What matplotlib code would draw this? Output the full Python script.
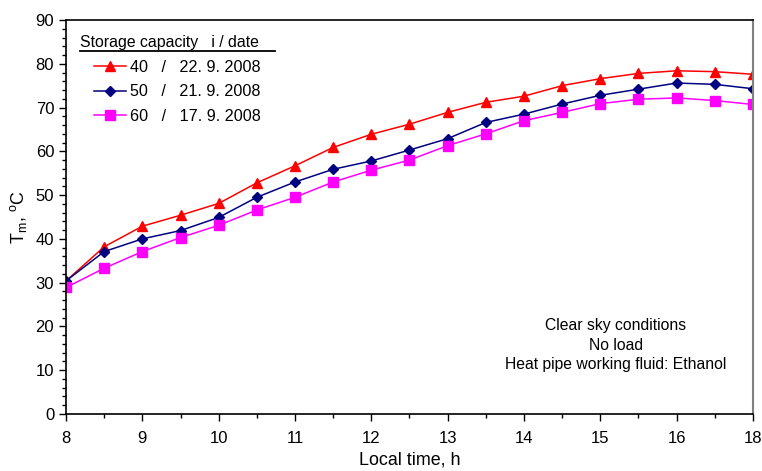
import numpy as np
import matplotlib.pyplot as plt
from matplotlib.ticker import MultipleLocator

plt.rcParams['font.family'] = ['Liberation Sans', 'DejaVu Sans']
plt.rcParams['mathtext.fontset'] = 'custom'
plt.rcParams['mathtext.rm'] = 'Liberation Sans'

# local time, h (last tick is labelled 18 in the original chart)
time_h = [8, 8.5, 9, 9.5, 10, 10.5, 11, 11.5, 12, 12.5, 13, 13.5, 14, 14.5, 15, 15.5, 16, 16.5, 17]
tick_pos = [8, 9, 10, 11, 12, 13, 14, 15, 16, 17]
tick_labels = ['8', '9', '10', '11', '12', '13', '14', '15', '16', '18']

t_40 = [30.4, 38.2, 42.9, 45.4, 48.1, 52.8, 56.7, 60.9, 63.9, 66.2, 68.9, 71.2, 72.6, 75.0, 76.6, 77.8, 78.4, 78.2, 77.6]
t_50 = [30.4, 37.1, 40.0, 41.9, 44.9, 49.5, 53.0, 55.9, 57.8, 60.3, 62.9, 66.6, 68.5, 70.8, 72.8, 74.2, 75.6, 75.3, 74.3]
t_60 = [28.9, 33.3, 37.1, 40.3, 43.1, 46.6, 49.5, 53.0, 55.7, 58.0, 61.3, 64.0, 67.0, 68.9, 70.9, 71.9, 72.2, 71.6, 70.7]

labels = ['40   /   22. 9. 2008', '50   /   21. 9. 2008', '60   /   17. 9. 2008']

W, H = 687, 394
fig = plt.figure(figsize=(7.62, 4.71), dpi=100)
ax = fig.add_axes([66/762, 57/471, W/762, H/471])

ax.plot(time_h, t_40, color='#FF0000', marker='^', markersize=7, lw=1.1, label=labels[0])
ax.plot(time_h, t_50, color='#000080', marker='D', markersize=5.5, lw=1.1, label=labels[1])
ax.plot(time_h, t_60, color='#FF00FF', marker='s', markersize=6.5, lw=1.1, label=labels[2])

ax.set_xlim(8, 17)
ax.set_ylim(0, 90)
ax.set_xticks(tick_pos)
ax.set_xticklabels(tick_labels)
ax.xaxis.set_minor_locator(MultipleLocator(0.5))
ax.yaxis.set_major_locator(MultipleLocator(10))
ax.yaxis.set_minor_locator(MultipleLocator(2))
ax.tick_params(which='major', direction='out', length=5, width=1, labelsize=12)
ax.tick_params(which='minor', direction='out', length=3, width=1)
ax.tick_params(axis='x', pad=7)

ax.spines['right'].set_color('#808080')
ax.spines['right'].set_linewidth(1.5)
for s in ['left', 'bottom', 'top']:
    ax.spines[s].set_linewidth(1.2)

ax.set_xlabel('Local time, h', fontsize=12.9, labelpad=4)
ax.set_ylabel(r'T$_{\rm m}$, $^{\rm o}$C', fontsize=12.9, labelpad=5)

# legend title with underline
ax.text(14/W, 0.942, 'Storage capacity   i / date', transform=ax.transAxes,
        fontsize=11.4, ha='left', va='center')
ax.plot([14/W, 209/W], [0.922, 0.922], transform=ax.transAxes, color='black', lw=1.3, clip_on=False)

ax.legend(loc='upper left', bbox_to_anchor=(28/W, 1 - 40/H), frameon=False,
          fontsize=11.6, borderpad=0, borderaxespad=0, handlelength=2.0,
          handletextpad=0.25, labelspacing=0.58)

ax.text(550/W, 0.175, 'Clear sky conditions\nNo load\nHeat pipe working fluid: Ethanol',
        transform=ax.transAxes, ha='center', va='center', fontsize=11.3, linespacing=1.4)

fig.savefig('out.png', dpi=100)
